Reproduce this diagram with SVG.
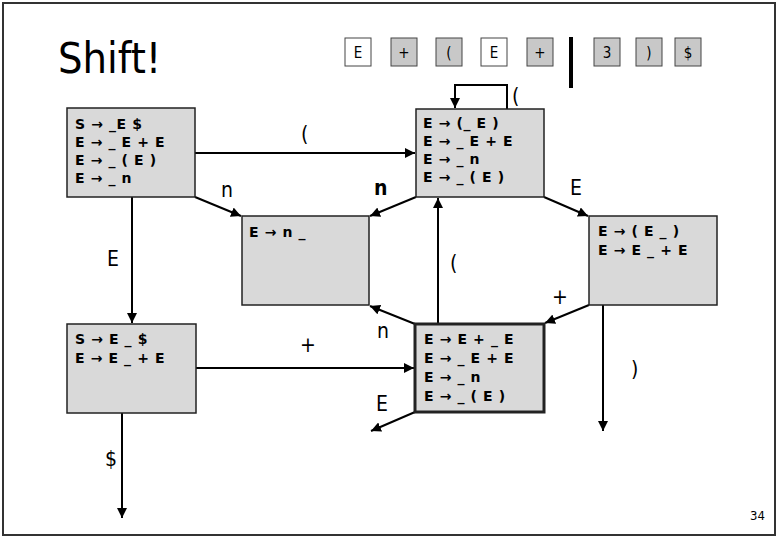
<svg xmlns="http://www.w3.org/2000/svg" width="778" height="539" viewBox="0 0 778 539">
<defs>
<marker id="ah" viewBox="0 0 10 10" refX="10" refY="5" markerWidth="5" markerHeight="5" orient="auto" markerUnits="strokeWidth">
<path d="M0,0 L10,5 L0,10 z" fill="#000"/>
</marker>
<style>
.frame{fill:#fff;stroke:#333;stroke-width:2}
.node{fill:#d9d9d9;stroke:#222;stroke-width:1.5}
.bold{stroke-width:3}
.rule{font-family:"DejaVu Sans",Verdana,sans-serif;font-weight:bold;font-size:14px;letter-spacing:0.6px;fill:#000}
.lbl{font-family:"DejaVu Sans",sans-serif;font-stretch:condensed;font-size:21px;fill:#000}
.tok{fill:#c8c8c8;stroke:#444;stroke-width:1}
.tokw{fill:#fff;stroke:#444;stroke-width:1}
.tt{font-family:"DejaVu Sans",sans-serif;font-stretch:condensed;font-size:15px;fill:#000;text-anchor:middle}
.edge{fill:none;stroke:#000;stroke-width:2;marker-end:url(#ah)}
</style>
</defs>
<rect class="frame" x="3" y="3" width="772" height="532"/>
<text x="58" y="73" font-family="DejaVu Sans, sans-serif" font-stretch="condensed" font-size="43">Shift!</text>
<g id="tokens">
<rect class="tokw" x="345" y="38" width="26" height="28"/><text class="tt" x="358" y="58">E</text>
<rect class="tok" x="391" y="38" width="26" height="28"/><text class="tt" x="404" y="58">+</text>
<rect class="tok" x="436" y="38" width="26" height="28"/><text class="tt" x="449" y="58">(</text>
<rect class="tokw" x="481" y="38" width="26" height="28"/><text class="tt" x="494" y="58">E</text>
<rect class="tok" x="527" y="38" width="26" height="28"/><text class="tt" x="540" y="58">+</text>
<line x1="571" y1="37" x2="571" y2="88" stroke="#000" stroke-width="4"/>
<rect class="tok" x="594" y="38" width="26" height="28"/><text class="tt" x="607" y="58">3</text>
<rect class="tok" x="636" y="38" width="26" height="28"/><text class="tt" x="649" y="58">)</text>
<rect class="tok" x="675" y="38" width="26" height="28"/><text class="tt" x="688" y="58">$</text>
</g>
<g id="connectors">
<line class="edge" x1="195" y1="153" x2="415" y2="153"/>
<line class="edge" x1="195" y1="197" x2="241" y2="216"/>
<line class="edge" x1="416" y1="197" x2="370" y2="216"/>
<line class="edge" x1="544" y1="197" x2="588" y2="216"/>
<polyline class="edge" points="507,109 507,85 455,85 455,108"/>
<line class="edge" x1="132" y1="197" x2="132" y2="323"/>
<line class="edge" x1="196" y1="368" x2="414" y2="368"/>
<line class="edge" x1="438" y1="324" x2="438" y2="198"/>
<line class="edge" x1="589" y1="305" x2="545" y2="323"/>
<line class="edge" x1="415" y1="324" x2="370" y2="306"/>
<line class="edge" x1="415" y1="412" x2="371" y2="431"/>
<line class="edge" x1="603" y1="305" x2="603" y2="431"/>
<line class="edge" x1="122" y1="413" x2="122" y2="518"/>
<text class="lbl" x="301" y="141">(</text>
<text class="lbl" x="221" y="197">n</text>
<text class="lbl" x="374" y="195" font-weight="bold">n</text>
<text class="lbl" x="570" y="195">E</text>
<text class="lbl" x="107" y="266">E</text>
<text class="lbl" x="450" y="270">(</text>
<text class="lbl" x="552" y="304">+</text>
<text class="lbl" x="377" y="338">n</text>
<text class="lbl" x="300" y="352">+</text>
<text class="lbl" x="631" y="376">)</text>
<text class="lbl" x="376" y="411">E</text>
<text class="lbl" x="105" y="466">$</text>
<text class="lbl" x="512" y="103">(</text>
</g>
<g id="n1">
<rect class="node" x="67" y="108" width="128" height="89"/>
<text class="rule" x="75" y="129">S → _E $</text>
<text class="rule" x="75" y="147">E → _ E + E</text>
<text class="rule" x="75" y="165">E → _ ( E )</text>
<text class="rule" x="75" y="183">E → _ n</text>
</g>
<g id="n2">
<rect class="node" x="416" y="109" width="128" height="88"/>
<text class="rule" x="423" y="128">E → (_ E )</text>
<text class="rule" x="423" y="146">E → _ E + E</text>
<text class="rule" x="423" y="164">E → _ n</text>
<text class="rule" x="423" y="182">E → _ ( E )</text>
</g>
<g id="n3">
<rect class="node" x="242" y="216" width="127" height="89"/>
<text class="rule" x="249" y="237">E →  n _</text>
</g>
<g id="n4">
<rect class="node" x="589" y="216" width="128" height="89"/>
<text class="rule" x="598" y="236">E → ( E _ )</text>
<text class="rule" x="598" y="255">E → E _ + E</text>
</g>
<g id="n5">
<rect class="node" x="67" y="324" width="129" height="89"/>
<text class="rule" x="75" y="344">S → E _ $</text>
<text class="rule" x="75" y="363">E → E _ + E</text>
</g>
<g id="n6">
<rect class="node bold" x="415" y="324" width="129" height="88"/>
<text class="rule" x="424" y="344">E →  E + _ E</text>
<text class="rule" x="424" y="363">E → _ E + E</text>
<text class="rule" x="424" y="382">E → _ n</text>
<text class="rule" x="424" y="401">E → _ ( E )</text>
</g>
<text x="750" y="520" font-family="DejaVu Sans, sans-serif" font-stretch="condensed" font-size="13">34</text>
</svg>
